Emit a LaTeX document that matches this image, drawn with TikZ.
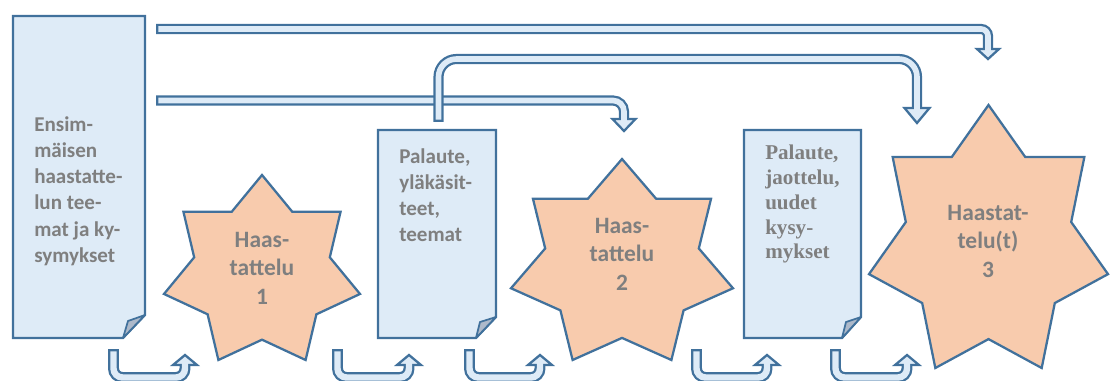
\documentclass[tikz,border=0pt]{standalone}
\usepackage{fontspec}
\newfontfamily\calfont{Carlito}
\newfontfamily\tmsfont{Liberation Serif}
\definecolor{outl}{HTML}{41719C}
\definecolor{docfill}{HTML}{DEEBF7}
\definecolor{arrfill}{HTML}{DEEBF7}
\definecolor{starfill}{HTML}{F8CBAD}
\definecolor{txtgray}{HTML}{7F7F7F}
\definecolor{flapfill}{HTML}{ADB9CA}
\tikzset{
  docshape/.style={draw=outl, fill=docfill, line width=1.7pt, line join=miter},
  flapshape/.style={draw=outl, fill=flapfill, line width=1.3pt, line join=round},
  starshape/.style={draw=outl, fill=starfill, line width=1.7pt, line join=miter},
  arrout/.style={draw=outl, line width=7.6pt},
  arrin/.style={draw=arrfill, line width=4.2pt, shorten <=1.7pt, shorten >=-2.5pt},
  uarrout/.style={draw=outl, line width=8.2pt},
  uarrin/.style={draw=arrfill, line width=4.8pt, shorten <=1.7pt, shorten >=-2.5pt},
  arrhead/.style={draw=outl, fill=arrfill, line width=1.7pt, line join=miter},
  doctext/.style={anchor=base west, inner sep=0pt, text=txtgray,
    font=\calfont\bfseries\fontsize{15.8}{19.5}\selectfont},
  doctextserif/.style={anchor=base west, inner sep=0pt, text=txtgray,
    font=\tmsfont\bfseries\fontsize{15.8}{18.5}\selectfont},
  startext/.style={anchor=base, inner sep=0pt, text=txtgray,
    font=\calfont\bfseries\fontsize{17.6}{21.4}\selectfont},
}
% star: #1 x0, #2 y0, #3 width, #4 height
\newcommand\sevenstar[4]{%
  \begin{scope}[shift={(#1,#2)}, xscale=#3, yscale=#4]
    \draw[starshape] (0.5,0) -- (0.6540,0.1981) -- (0.9010,0.1981) -- (0.8460,0.4450)
      -- (1,0.6431) -- (0.7775,0.7530) -- (0.7225,1) -- (0.5,0.8901)
      -- (0.2775,1) -- (0.2225,0.7530) -- (0,0.6431) -- (0.1540,0.4450)
      -- (0.0990,0.1981) -- (0.3460,0.1981) -- cycle;
  \end{scope}}
% block arrow: #1 style prefix, #2 radius, #3 path, #4 head x, #5 base y, #6 half width, #7 tip y
\newcommand\barrow[7]{%
  \draw[#1arrout, rounded corners=#2] #3;
  \draw[arrhead] (#4-#6,#5) -- (#4+#6,#5) -- (#4,#7) -- cycle;
  \draw[#1arrin, rounded corners=#2] #3;}
\begin{document}
\begin{tikzpicture}[x=0.75pt, y=-0.75pt]
\useasboundingbox (0,0) rectangle (1112,381);
\clip (0,0) rectangle (1112,381);
% documents
\draw[docshape] (13,16) -- (145,16) -- (145,315) -- (123,338) -- (13,338) -- cycle;
\draw[flapshape] (145,315) -- (128,321) -- (123,338) -- cycle;
\draw[docshape] (378,130) -- (496,130) -- (496,317) -- (476,338) -- (378,338) -- cycle;
\draw[flapshape] (496,317) -- (480,322) -- (476,338) -- cycle;
\draw[docshape] (744,130) -- (861,130) -- (861,317) -- (842,338) -- (744,338) -- cycle;
\draw[flapshape] (861,317) -- (846,322) -- (842,338) -- cycle;
% stars
\sevenstar{164}{175}{196}{185}
\sevenstar{511}{159}{222}{201}
\sevenstar{869}{105}{239}{263}
% texts
\node[doctext] (t1) at (34,132) {\begin{tabular}[t]{@{}l@{}}Ensim-\\mäisen\\haastatte-\\lun tee-\\mat ja ky-\\symykset\end{tabular}};
\node[doctext] (t2) at (399,163) {\begin{tabular}[t]{@{}l@{}}Palaute,\\yläkäsit-\\teet,\\teemat\end{tabular}};
\node[doctextserif] (t3) at (765,160) {\begin{tabular}[t]{@{}l@{}}Palaute,\\jaottelu,\\uudet\\kysy-\\mykset\end{tabular}};
\node[startext] (h1) at (262,247) {\begin{tabular}[t]{@{}c@{}}Haas-\\tattelu\\1\end{tabular}};
\node[startext] (h2) at (622,233) {\begin{tabular}[t]{@{}c@{}}Haas-\\tattelu\\2\end{tabular}};
\node[startext] (h3) at (988,220) {\begin{tabular}[t]{@{}c@{}}Haastat-\\telu(t)\\3\end{tabular}};
% top arrows
\barrow{}{5.25pt}{(156,29) -- (988,29) -- (988,49)}{988}{49}{11}{59}
\barrow{}{8.25pt}{(156,100.5) -- (624,100.5) -- (624,119)}{624}{119}{11.5}{131}
\barrow{}{13.5pt}{(438.5,122) -- (438.5,59) -- (917,59) -- (917,108)}{917}{108}{12.5}{123}
% bottom U arrows
\barrow{u}{6.75pt}{(113.5,349) -- (113.5,377.5) -- (185,377.5) -- (185,365)}{185}{365}{12}{355}
\barrow{u}{6.75pt}{(337.5,349) -- (337.5,377.5) -- (409,377.5) -- (409,365)}{409}{365}{12}{355}
\barrow{u}{6.75pt}{(469.5,349) -- (469.5,377.5) -- (540,377.5) -- (540,365)}{540}{365}{12}{355}
\barrow{u}{6.75pt}{(696.5,349) -- (696.5,377.5) -- (767,377.5) -- (767,365)}{767}{365}{12}{355}
\barrow{u}{6.75pt}{(835.5,349) -- (835.5,377.5) -- (907,377.5) -- (907,365)}{907}{365}{12}{355}
\end{tikzpicture}
\end{document}
